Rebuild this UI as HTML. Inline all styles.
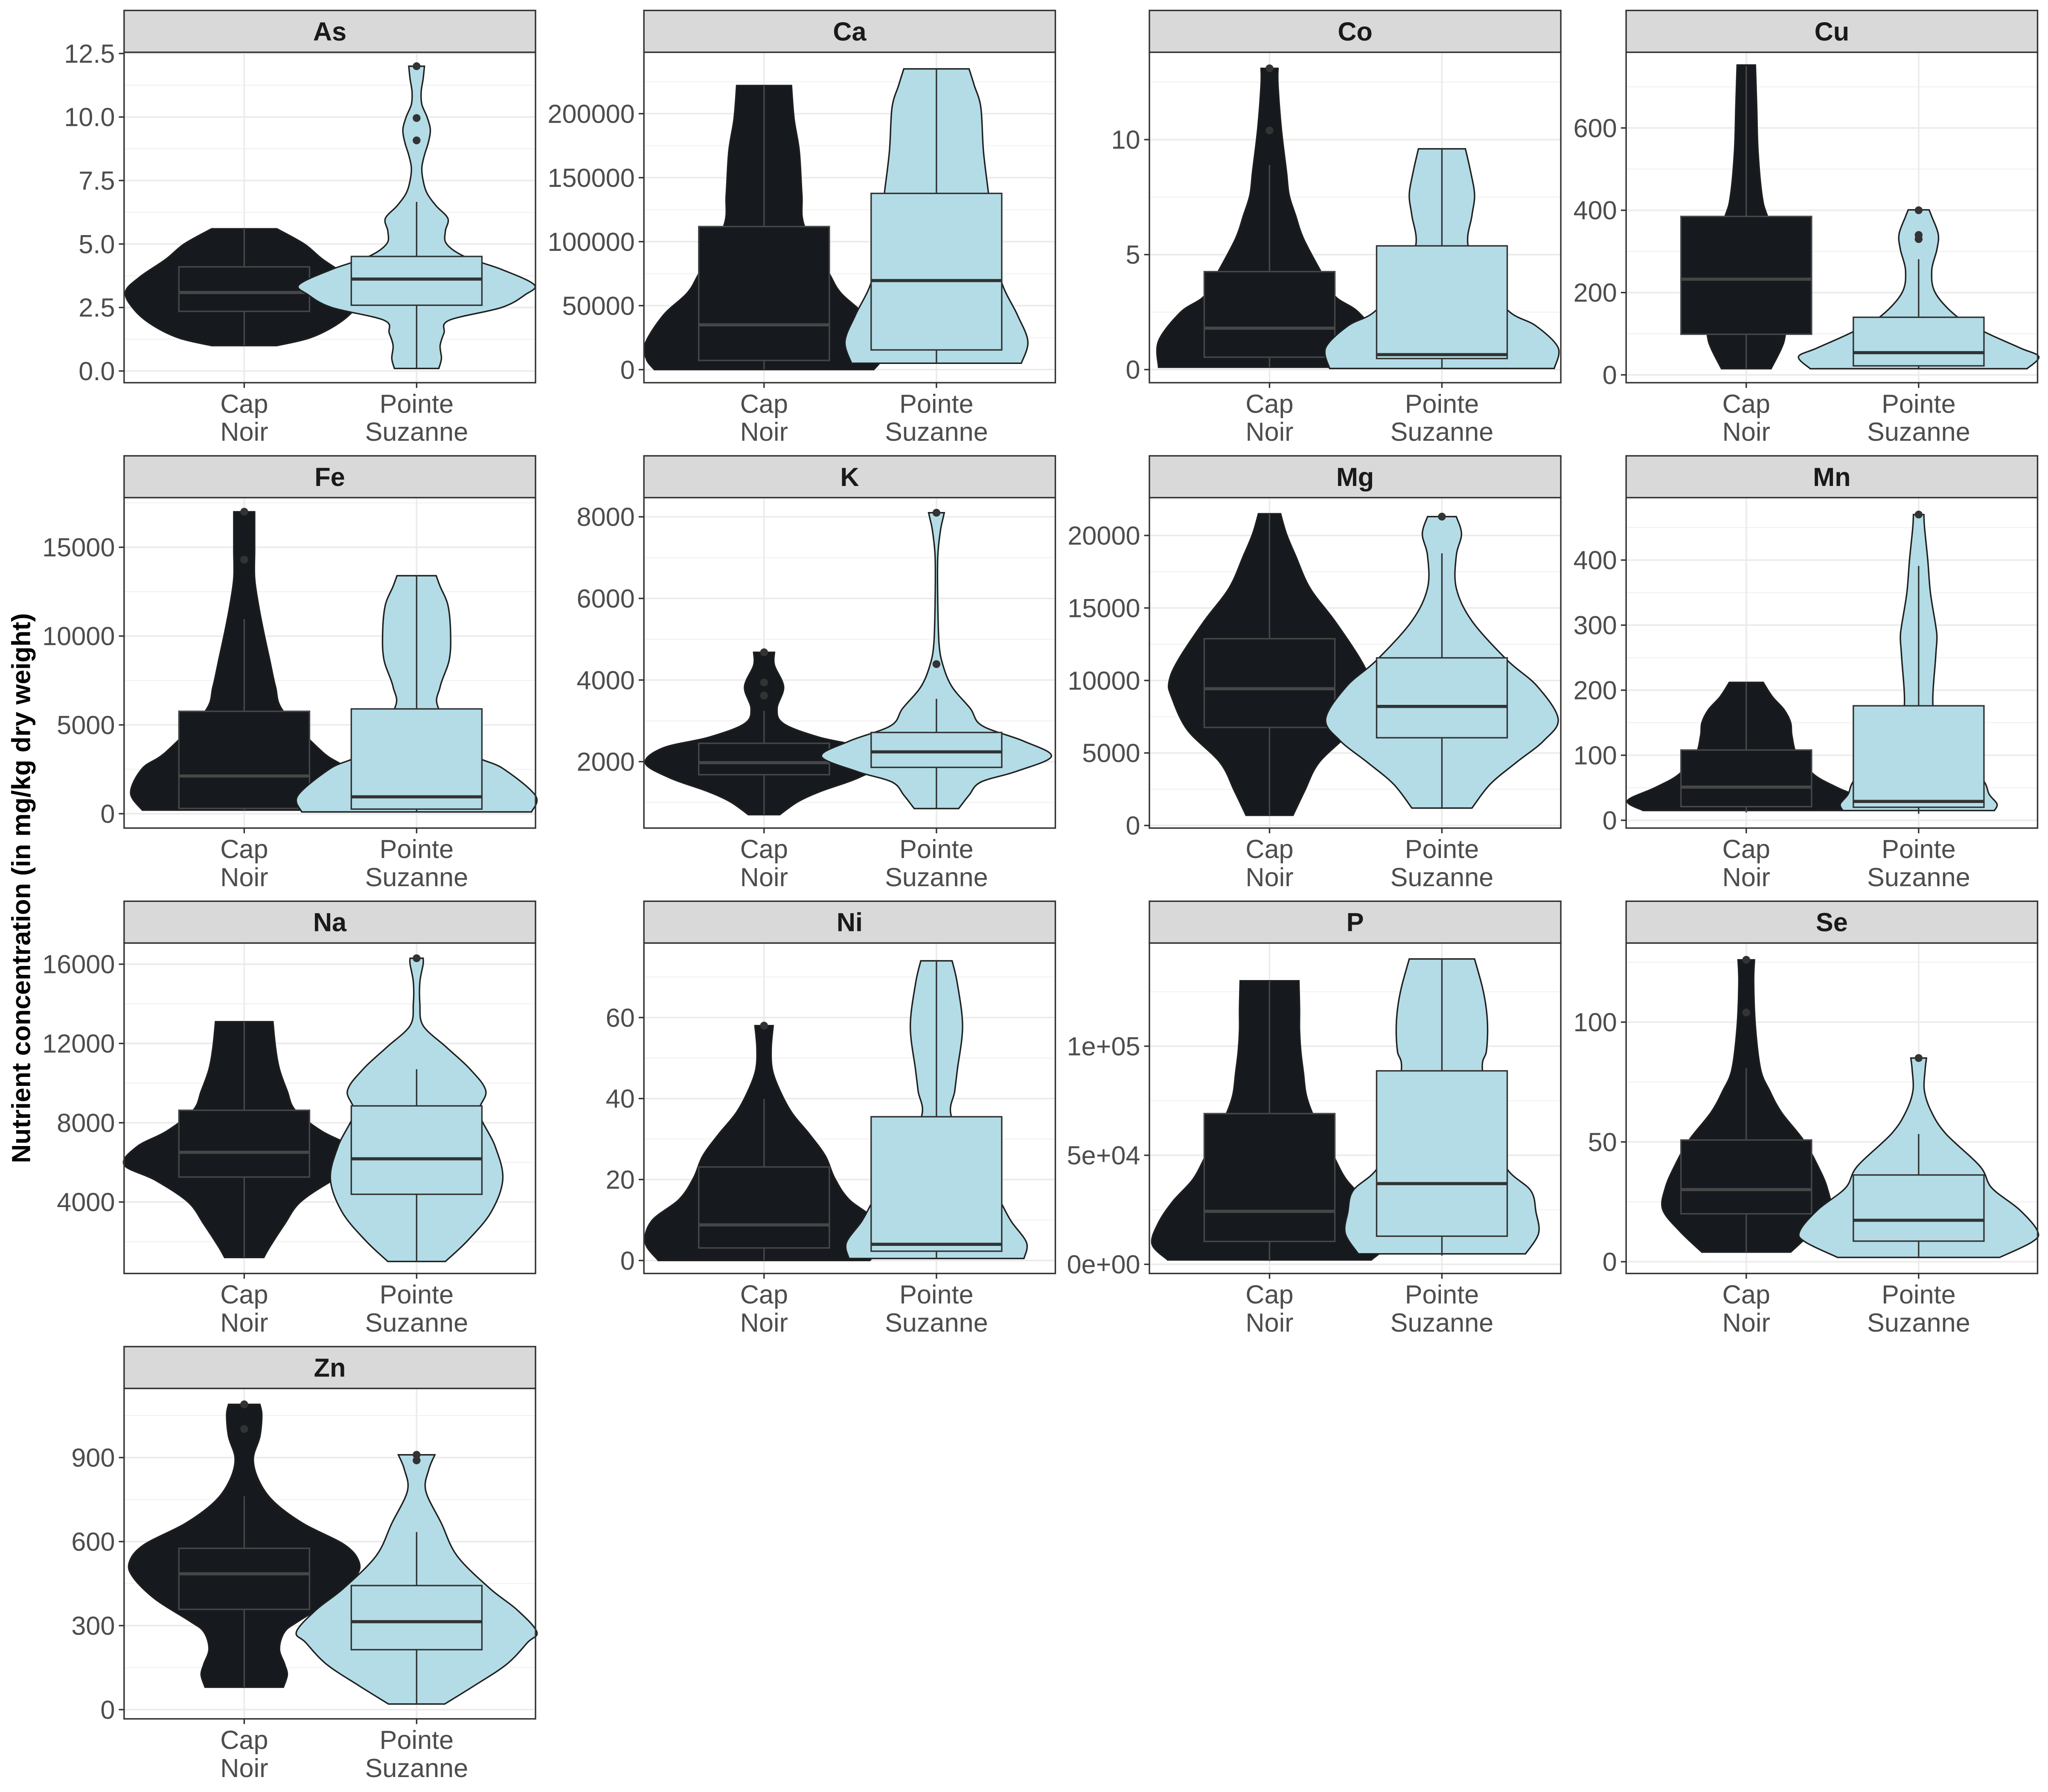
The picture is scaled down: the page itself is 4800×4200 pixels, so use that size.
<!DOCTYPE html>
<html><head><meta charset="utf-8"><style>
html,body{margin:0;padding:0;background:#fff}
svg{display:block}
text{font-family:"Liberation Sans",Arial,sans-serif}
</style></head><body>
<svg id="chart" width="4800" height="4200" viewBox="0 0 1568 1372" xmlns="http://www.w3.org/2000/svg">
<rect x="0" y="0" width="1568" height="1372" fill="#fff"/>
<text x="0" y="0" transform="translate(23,680) rotate(-90)" text-anchor="middle" font-size="20" font-weight="bold" fill="#000">Nutrient concentration (in mg/kg dry weight)</text>
</svg>
<script>
const elements = ["As","Ca","Co","Cu","Fe","K","Mg","Mn","Na","Ni","P","Se","Zn"];
const groups = ["Cap Noir","Pointe Suzanne"];
const yDomains = [[-0.46,12.55],[-10200,248000],[-0.57,13.8],[-19,784],[-809,17794],[372,8470],[-180,22610],[-12,496],[395,17068],[-3.2,78.4],[-4192,147300],[-4.9,133],[-33,1147]];
const yTicks = [[0,2.5,5,7.5,10,12.5],[0,50000,100000,150000,200000],[0,5,10],[0,200,400,600],[0,5000,10000,15000],[2000,4000,6000,8000],[0,5000,10000,15000,20000],[0,100,200,300,400],[4000,8000,12000,16000],[0,20,40,60],[0,50000,100000],[0,50,100],[0,300,600,900]];
const yTickLabels = [["0.0","2.5","5.0","7.5","10.0","12.5"],["0","50000","100000","150000","200000"],["0","5","10"],["0","200","400","600"],["0","5000","10000","15000"],["2000","4000","6000","8000"],["0","5000","10000","15000","20000"],["0","100","200","300","400"],["4000","8000","12000","16000"],["0","20","40","60"],["0e+00","5e+04","1e+05"],["0","50","100"],["0","300","600","900"]];
// violin density profiles: [value, relative density]
const capViolins = [
 [[1,25],[1.3,50],[1.8,70],[2.4,84],[3.1,91],[3.7,80],[4.4,60],[5,46],[5.6,25]],
 [[0,84],[8000,90],[20500,91],[42700,77],[59700,59],[75000,50],[111800,31],[136500,29],[170600,27],[196000,23],[222000,21]],
 [[0.1,85],[1.24,85],[2.5,68],[3.2,50],[4.3,39],[5.7,26],[6.7,20],[7.6,15],[8.6,13],[10.5,9],[12.4,6.5],[13.1,6.5]],
 [[15,19],[65,27],[100,30],[200,34],[300,28],[388,16],[438,12],[545,9],[652,8],[753,7]],
 [[200,78],[1180,87],[2550,78],[3470,60],[5760,30],[7140,24],[8670,19.5],[10200,15],[11730,11],[13260,8],[14790,8],[16300,8],[17000,8]],
 [[700,12],[1020,26],[1280,44],[1600,72],[1970,91],[2340,77],[2600,42],[2930,15],[3300,10],[3830,15],[4360,8],[4680,8]],
 [[700,18],[2400,27],[4350,38],[6600,63],[8860,75],[9900,77],[11400,70],[14100,50],[16370,31],[18600,20],[20100,13],[21500,8.5]],
 [[15,79],[30,91],[50,70],[70,52],[100,39],[130,35],[150,34],[170,29],[190,20],[212,13]],
 [[1200,15],[1780,20],[2890,31],[4000,43],[5100,68],[5880,92],[6800,82],[7590,59],[8640,39],[9590,33],[10700,27],[11800,24],[13100,22]],
 [[0,81],[4.4,91],[9.8,86],[15.1,65],[20.4,54],[25.8,47],[31.1,35],[36.4,21.5],[41.8,12.4],[47.1,6.4],[52.4,5.5],[58,7]],
 [[2000,78],[9300,90],[19100,85],[28900,74],[38700,59],[48500,50],[58300,42],[69100,33],[78000,28],[87700,26],[97500,24],[107300,23],[117200,23],[130000,22.5]],
 [[4,34],[12.8,51],[21.8,64],[30.8,62],[39.8,55],[50.6,44],[62.3,27],[71.3,18],[80.3,11],[98.3,7],[116.4,5.7],[126,6.3]],
 [[80,30],[124,33],[162,31],[217,27],[278,31],[317,42],[394,68],[472,85],[526,88],[588,77],[665,45],[743,22.5],[820,11],[897,7],[975,12],[1052,13.5],[1090,12]]
];
const ptViolins = [
 [[0.1,17],[0.5,19],[1,18],[1.5,21],[2,25],[2.5,65],[3,83],[3.4,90],[4,65],[4.5,37],[5,23],[5.5,22],[6,24],[6.5,15],[7,8],[7.5,5],[8,4],[8.5,6],[9,9],[9.5,10.5],[10,8],[10.5,4],[11,3.5],[11.5,5],[12,6]],
 [[5000,65],[22000,70],[42700,62],[68000,50],[100000,44],[136500,40],[170600,36],[204800,34],[222000,29],[235000,25]],
 [[0.05,86],[0.95,89],[1.9,72],[2.5,52],[3.8,32],[5.4,20],[6.7,23],[7.6,25],[8.6,22],[9.6,18]],
 [[15,83],[44,92],[65,78],[102,52],[140,30],[198,13],[252,10],[305,14],[342,15],[385,10],[401,8]],
 [[100,88],[1020,91],[2550,66],[3470,41],[5900,17],[7140,18],[8670,25],[10200,26],[11730,24],[12800,18],[13400,15]],
 [[850,17],[1180,25],[1500,34],[1760,61],[2130,88],[2500,67],[2880,35],[3300,26],[3830,12],[4360,5],[4890,2],[5950,1],[7010,1],[7650,3],[7960,5],[8100,6]],
 [[1200,23],[2850,37],[4350,57],[5850,78],[7350,89],[9600,73],[11400,50],[14100,23],[16370,11],[18600,11],[20100,15],[21300,11]],
 [[15,58],[25,60],[40,54],[60,50],[100,35],[140,18],[175,11],[250,13],[280,14],[300,13],[350,9],[400,7],[450,4.5],[470,4]],
 [[1000,22],[2050,39],[3490,57],[5160,66],[6830,60],[8490,48],[9600,53],[10700,41],[11800,23],[12900,5],[14000,2.5],[15100,2.5],[16000,5],[16300,5]],
 [[0.5,67],[4.4,69],[9.8,57],[15.1,48],[25,30],[35.5,11.5],[41.8,14],[47.1,16],[57.8,20],[68.4,16],[74,12]],
 [[4800,64],[14200,74],[24000,72],[33800,68],[43600,50],[60000,38],[89000,31],[97500,34],[107300,35],[117000,34],[127000,31],[140000,25]],
 [[1.8,62],[8.3,87],[12.8,91],[21.8,77],[30.8,56],[39.8,47],[53.3,21],[62.3,10],[71.3,4.4],[80.3,5],[85,6]],
 [[20,21.5],[85,44],[162,69],[240,85],[278,92],[356,77],[433,56],[549,31],[665,19],[781,7],[858,9.4],[910,14]]
];
// boxes: [lower whisker, q1, median, q3, upper whisker]
const capBoxes = [[1,2.35,3.09,4.1,5.6],[0,7200,35000,111800,222000],[0.1,0.54,1.8,4.26,8.9],[15,98.7,232.5,385,750],[200,300,2125,5765,10960],[700,1680,1975,2450,3245],[700,6760,9430,12880,21500],[12,21,51,108,212],[1200,5260,6510,8630,13100],[0,3.1,8.8,23.1,39.9],[1500,10500,24300,69100,130000],[4,20,30.1,50.8,80.8],[80,358,485,576,762]];
const ptBoxes = [[0.1,2.59,3.62,4.51,6.66],[5000,15400,69600,137700,235000],[0.05,0.48,0.65,5.38,9.6],[15,22,54,140,281],[100,260,950,5900,13400],[850,1860,2240,2715,3540],[1200,6050,8210,11560,18770],[10,20,29,176,391],[1000,4390,6180,8850,10700],[0.5,2.3,4.0,35.5,74],[4000,12900,37000,88700,140000],[1.8,8.6,17.3,36.2,53.3],[20,214,314,443,634]];
const capOutliers = [[],[],[10.4,13.1],[],[14300,17000],[3620,3940,4680],[],[],[],[58],[],[104,126],[1002,1090]];
const ptOutliers = [[9.08,9.96,12],[],[],[330,340,400],[],[4390,8100],[21300],[470],[16300],[],[],[85],[890,910]];

const NS = "http://www.w3.org/2000/svg";
const svg = document.getElementById("chart");
const colX = [95,493,880,1245], PW = 315, stripTop = [8,349,690,1031], SH = 32, PH = 253;
const fills = ["#161a1f","#b3dce6"], boxStroke = ["#474747","#333333"];
function mk(tag, attrs, parent){const e=document.createElementNS(NS,tag);for(const k in attrs)e.setAttribute(k,attrs[k]);(parent||svg).appendChild(e);return e;}
function curveSeg(pts){
  let d="";
  for(let i=0;i<pts.length-1;i++){
    const p0=pts[Math.max(0,i-1)],p1=pts[i],p2=pts[i+1],p3=pts[Math.min(pts.length-1,i+2)];
    const c1=[p1[0]+(p2[0]-p0[0])/6,p1[1]+(p2[1]-p0[1])/6],c2=[p2[0]-(p3[0]-p1[0])/6,p2[1]-(p3[1]-p1[1])/6];
    d+=" C"+c1[0].toFixed(2)+","+c1[1].toFixed(2)+" "+c2[0].toFixed(2)+","+c2[1].toFixed(2)+" "+p2[0].toFixed(2)+","+p2[1].toFixed(2);
  }
  return d;
}
elements.forEach((el,i)=>{
  const col=i%4,row=Math.floor(i/4);
  const x0=colX[col], st=stripTop[row], y0=st+SH, y1=y0+PH;
  const dom=yDomains[i];
  const yS=v=>y1-(v-dom[0])/(dom[1]-dom[0])*PH;
  const xS=g=>x0+PW*(g===0?0.292:0.711);
  const g=mk("g",{});
  
  
  const tk=yTicks[i];
  const step=tk.length>1?tk[1]-tk[0]:1;
  for(let m=tk[0]-step/2;m<=dom[1];m+=step){ if(m>=dom[0]) mk("line",{x1:x0,x2:x0+PW,y1:yS(m),y2:yS(m),stroke:"#f2f2f2","stroke-width":0.8},g); }
  tk.forEach(t=>mk("line",{x1:x0,x2:x0+PW,y1:yS(t),y2:yS(t),stroke:"#ebebeb","stroke-width":1.2},g));
  [0,1].forEach(k=>mk("line",{x1:xS(k),x2:xS(k),y1:y0,y2:y1,stroke:"#ebebeb","stroke-width":1.2},g));
  [0,1].forEach(k=>{
    const prof=(k===0?capViolins:ptViolins)[i], cx=xS(k);
    const right=prof.map(p=>[cx+p[1],yS(p[0])]);
    const left=prof.slice().reverse().map(p=>[cx-p[1],yS(p[0])]);
    const d="M"+right[0][0]+","+right[0][1]+curveSeg(right)+" L"+left[0][0]+","+left[0][1]+curveSeg(left)+" Z";
    const v=mk("path",{d:d,fill:fills[k],stroke:"#1f1f1f","stroke-width":1.1},g);
    
    
    const b=(k===0?capBoxes:ptBoxes)[i], sc=boxStroke[k];
    mk("line",{x1:cx,x2:cx,y1:yS(b[0]),y2:yS(b[1]),stroke:sc,"stroke-width":1.1},g);
    mk("line",{x1:cx,x2:cx,y1:yS(b[3]),y2:yS(b[4]),stroke:sc,"stroke-width":1.1},g);
    const r=mk("rect",{x:cx-50,y:yS(b[3]),width:100,height:yS(b[1])-yS(b[3]),fill:fills[k],stroke:sc,"stroke-width":1.1},g);
    
    
    mk("line",{x1:cx-50,x2:cx+50,y1:yS(b[2]),y2:yS(b[2]),stroke:sc,"stroke-width":2.4},g);
    (k===0?capOutliers:ptOutliers)[i].forEach(o=>{
      const c=mk("circle",{cx:cx,cy:yS(o),r:3,fill:"#333"},g);
      
      
    });
  });
  mk("rect",{x:x0,y:y0,width:PW,height:PH,fill:"none",stroke:"#333","stroke-width":1.1},g);
  const s=mk("rect",{x:x0,y:st,width:PW,height:SH,fill:"#d9d9d9",stroke:"#333","stroke-width":1.1},g);
  
  
  const stt=mk("text",{x:x0+PW/2,y:st+23,"text-anchor":"middle","font-size":20,"font-weight":"bold",fill:"#1a1a1a"},g);
  stt.textContent=el;
  
  
  tk.forEach((t,j)=>{
    mk("line",{x1:x0-4,x2:x0,y1:yS(t),y2:yS(t),stroke:"#333","stroke-width":1.1},g);
    const tx=mk("text",{x:x0-7,y:yS(t)+7,"text-anchor":"end","font-size":20,fill:"#4d4d4d"},g);
    tx.textContent=yTickLabels[i][j];
    
    
  });
  [0,1].forEach(k=>{
    const cx=xS(k);
    mk("line",{x1:cx,x2:cx,y1:y1,y2:y1+4,stroke:"#333","stroke-width":1.1},g);
    const parts=groups[k].split(" ");
    parts.forEach((p,j)=>{
      const tx=mk("text",{x:cx,y:y1+23+j*21.5,"text-anchor":"middle","font-size":20,fill:"#4d4d4d"},g);
      tx.textContent=p;
      
      
    });
  });
});
</script>
</body></html>
